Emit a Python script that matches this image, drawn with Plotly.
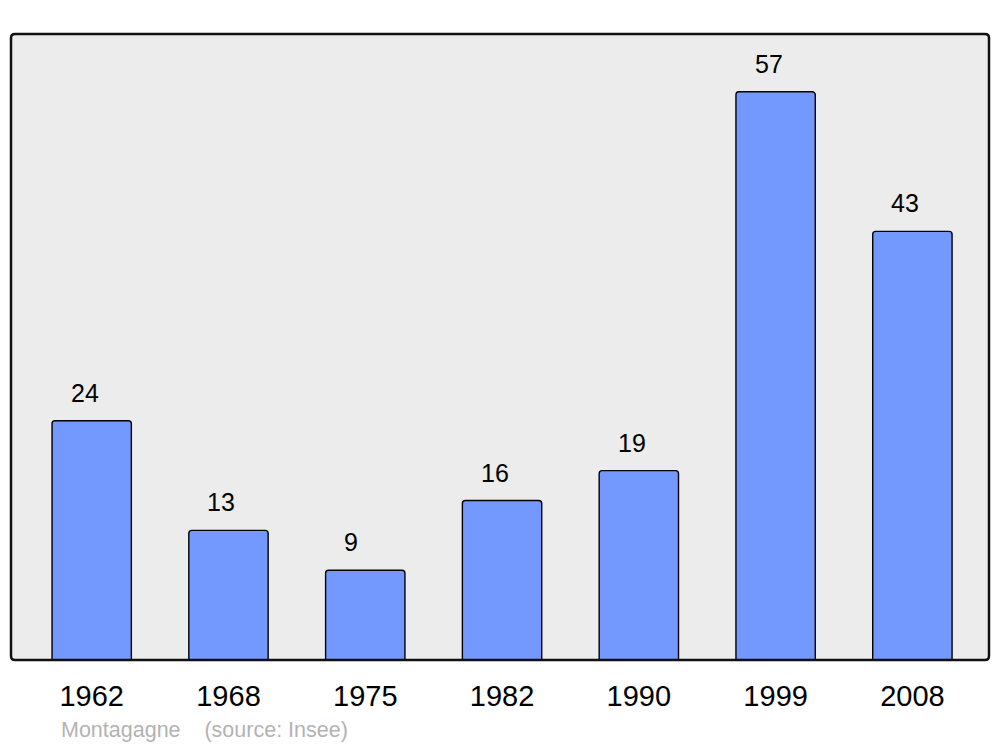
import plotly.graph_objects as go

years = ["1962", "1968", "1975", "1982", "1990", "1999", "2008"]
population = [24, 13, 9, 16, 19, 57, 43]
source_text = "Montagagne    (source: Insee)"

W, H = 1000, 747
OFF = 8  # page body offset
ML, MT = 11 - OFF, 34 - OFF
PR, PB = 989 - OFF, 660 - OFF  # plot right / bottom in figure px
MR, MB = W - PR, H - PB
pw, ph = PR - ML, PB - MT

fig = go.Figure()
fig.add_trace(go.Bar(
    x=years, y=population,
    marker=dict(color="#7399ff", line=dict(color="#000000", width=1.4), cornerradius=3),
    width=0.58, hoverinfo="skip",
))

for i, v in enumerate(population):
    fig.add_annotation(x=i, y=v, text=str(v), showarrow=False,
                       xanchor="left", yanchor="middle", yshift=28, xshift=-23,
                       font=dict(family="Liberation Sans, Arial", size=25, color="#000000"))

fig.add_annotation(xref="paper", yref="paper", x=(59 - OFF - ML) / pw, y=-(730 - 660) / ph,
                   text=source_text, showarrow=False, xanchor="left", yanchor="middle",
                   font=dict(family="Liberation Sans, Arial", size=21.5, color="#b3b3b3"))

# rounded frame around plot area
r = 4
rx, ry = r / pw, r / ph
path = (f"M {rx},0 L {1-rx},0 Q 1,0 1,{ry} L 1,{1-ry} Q 1,1 {1-rx},1 "
        f"L {rx},1 Q 0,1 0,{1-ry} L 0,{ry} Q 0,0 {rx},0 Z")
fig.add_shape(type="path", path=path, xref="paper", yref="paper",
              line=dict(color="#111111", width=2.5), layer="above")

fig.update_layout(
    width=W, height=H,
    margin=dict(l=ML, r=MR, t=MT, b=MB),
    paper_bgcolor="#ffffff", plot_bgcolor="#ececec",
    showlegend=False,
    xaxis=dict(type="category", range=[-0.59, 6.56], showgrid=False, zeroline=False,
               showline=False, ticks="", ticklabelstandoff=16,
               tickfont=dict(family="Liberation Sans, Arial", size=29, color="#000000")),
    yaxis=dict(range=[0, 62.8], showgrid=False, zeroline=False, showticklabels=False,
               showline=False, ticks=""),
)

fig.write_html("out.html")
